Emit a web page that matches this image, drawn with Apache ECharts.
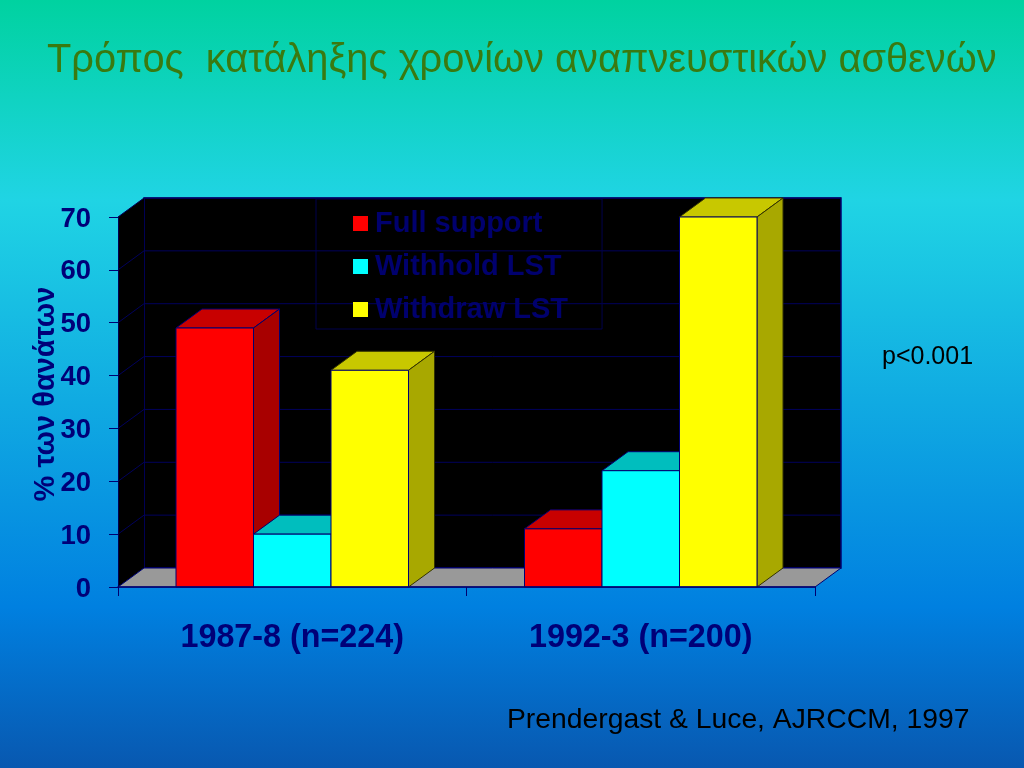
<!DOCTYPE html>
<html><head><meta charset="utf-8">
<style>html,body{margin:0;padding:0;background:#0080e0}#c{width:1024px;height:768px}</style>
<script src="https://cdn.jsdelivr.net/npm/echarts@6/dist/echarts.min.js"></script>
</head><body><div id="c"></div>
<script>
const categories = ['1987-8 (n=224)', '1992-3 (n=200)'];
const seriesNames = ['Full support', 'Withhold LST', 'Withdraw LST'];
const fullSupport = [49, 11];
const withholdLST = [10, 22];
const withdrawLST = [41, 70];
const yTicks = [0, 10, 20, 30, 40, 50, 60, 70];
const titleText = 'Τρόπος  κατάληξης χρονίων αναπνευστικών ασθενών';
const yAxisName = '% των θανάτων';
const noteText = 'p<0.001';
const sourceText = 'Prendergast & Luce, AJRCCM, 1997';

const DX = 26, DY = 19, GRID_COLOR = '#00005c', EDGE = '#000070', NAVY = '#000078';
const FONT = '"Liberation Sans", Arial, sans-serif';
const BAR_FRACTION = 77.5 / 348.5;
const BAR_COLORS = [
  {front:'#ff0000', top:'#c80000', side:'#a80000'},
  {front:'#00ffff', top:'#00bebe', side:'#00a0a0'},
  {front:'#ffff00', top:'#c8c800', side:'#a8a800'}
];

function poly(points, fill, stroke, lw) {
  return {type:'polygon', shape:{points}, style:{fill, stroke: stroke||null, lineWidth: lw||0}};
}
function wallItem(params) {
  const c = params.coordSys;
  const x0 = c.x, x1 = c.x + c.width, yT = c.y, yB = c.y + c.height;
  return {type:'group', children:[
    poly([[x0+DX,yT-DY],[x1+DX,yT-DY],[x1+DX,yB-DY],[x0+DX,yB-DY]], '#000000', EDGE, 1.5),
    poly([[x0,yT],[x0+DX,yT-DY],[x0+DX,yB-DY],[x0,yB]], '#000000'),
    poly([[x0,yB],[x0+DX,yB-DY],[x1+DX,yB-DY],[x1,yB]], '#999999', EDGE, 1)
  ]};
}
function gridItem(params, api) {
  const c = params.coordSys;
  const y = api.coord([0, api.value(0)])[1];
  return {type:'polyline', shape:{points:[[c.x,y],[c.x+DX,y-DY],[c.x+c.width+DX,y-DY]]},
    style:{fill:null, stroke:GRID_COLOR, lineWidth:1}};
}
function barItemFactory(idx) {
  return function (params, api) {
    const p = api.coord([api.value(0), api.value(1)]);
    const base = api.coord([api.value(0), 0]);
    const catW = api.size([1, 0])[0];
    const w = catW * BAR_FRACTION;
    const l = p[0] + (idx - 1.5) * w, r = l + w, t = p[1], b = base[1];
    const col = BAR_COLORS[idx];
    const st = col.front === '#ffff00' ? '#333300' : EDGE;
    return {type:'group', children:[
      poly([[l,t],[l+DX,t-DY],[r+DX,t-DY],[r,t]], col.top, st, 1),
      poly([[r,t],[r+DX,t-DY],[r+DX,b-DY],[r,b]], col.side, st, 1),
      poly([[l,t],[r,t],[r,b],[l,b]], col.front, EDGE, 1)
    ]};
  };
}
const seriesValues = [fullSupport, withholdLST, withdrawLST];
const series = [
  {type:'custom', name:'wall', silent:true, z:1, renderItem:wallItem, data:[0], encode:{y:0}},
  {type:'custom', name:'grid', silent:true, z:1, renderItem:gridItem, data:yTicks.slice(1).map(v=>[v]), encode:{y:0}}
];
seriesNames.forEach((n,i)=>series.push({
  type:'custom', name:n, z:3, renderItem:barItemFactory(i),
  itemStyle:{color:BAR_COLORS[i].front},
  data:categories.map((c,k)=>[k, seriesValues[i][k]]),
  encode:{x:0,y:1}
}));

const chart = echarts.init(document.getElementById('c'), null, {renderer:'canvas'});
chart.setOption({
  animation:false,
  backgroundColor:{type:'linear',x:0,y:0,x2:0,y2:1,colorStops:[
    {offset:0,color:'#00d2a0'},{offset:0.26,color:'#20d4e4'},
    {offset:0.79,color:'#0080e0'},{offset:1,color:'#0858b0'}]},
  title:[
    {text:titleText,left:42,top:36,textStyle:{color:'#3a7a10',fontFamily:FONT,fontWeight:'normal',fontSize:39.8}},
    {text:noteText,left:877,top:340,textStyle:{color:'#000000',fontFamily:FONT,fontWeight:'normal',fontSize:25}},
    {text:sourceText,left:502,top:701,textStyle:{color:'#000000',fontFamily:FONT,fontWeight:'normal',fontSize:28.3}}
  ],
  grid:{left:118,right:209,top:217,bottom:181,containLabel:false},
  legend:{
    data:seriesNames, orient:'vertical', left:316, top:199, icon:'rect',
    itemWidth:15, itemHeight:15, itemGap:14,
    padding:[10,34,5,37], borderColor:'#00004c', borderWidth:1,
    selectedMode:false,
    textStyle:{color:'#00006e',fontFamily:FONT,fontWeight:'bold',fontSize:29,padding:[0,0,0,2]}
  },
  xAxis:{type:'category',data:categories,z:5,
    axisLine:{show:true,lineStyle:{color:EDGE,width:1.5}},
    axisTick:{show:true,length:9,alignWithLabel:false,lineStyle:{color:EDGE}},
    splitLine:{show:false},
    axisLabel:{margin:35,color:NAVY,fontFamily:FONT,fontWeight:'bold',fontSize:32.3}
  },
  yAxis:{type:'value',min:0,max:70,interval:10,z:5,
    name:yAxisName,nameLocation:'middle',nameGap:58,nameRotate:90,nameMoveOverlap:false,
    nameTextStyle:{color:NAVY,fontFamily:FONT,fontWeight:'bold',fontSize:29,padding:[0,0,0,16]},
    axisLine:{show:true,lineStyle:{color:'#000050',width:1}},
    axisTick:{show:true,length:9,lineStyle:{color:EDGE}},
    splitLine:{show:false},
    axisLabel:{margin:27,formatter:'{v|{value}}',rich:{v:{color:NAVY,fontFamily:FONT,fontWeight:'bold',fontSize:27.5,padding:[4,0,0,0]}}}
  },
  series
});
</script></body></html>
